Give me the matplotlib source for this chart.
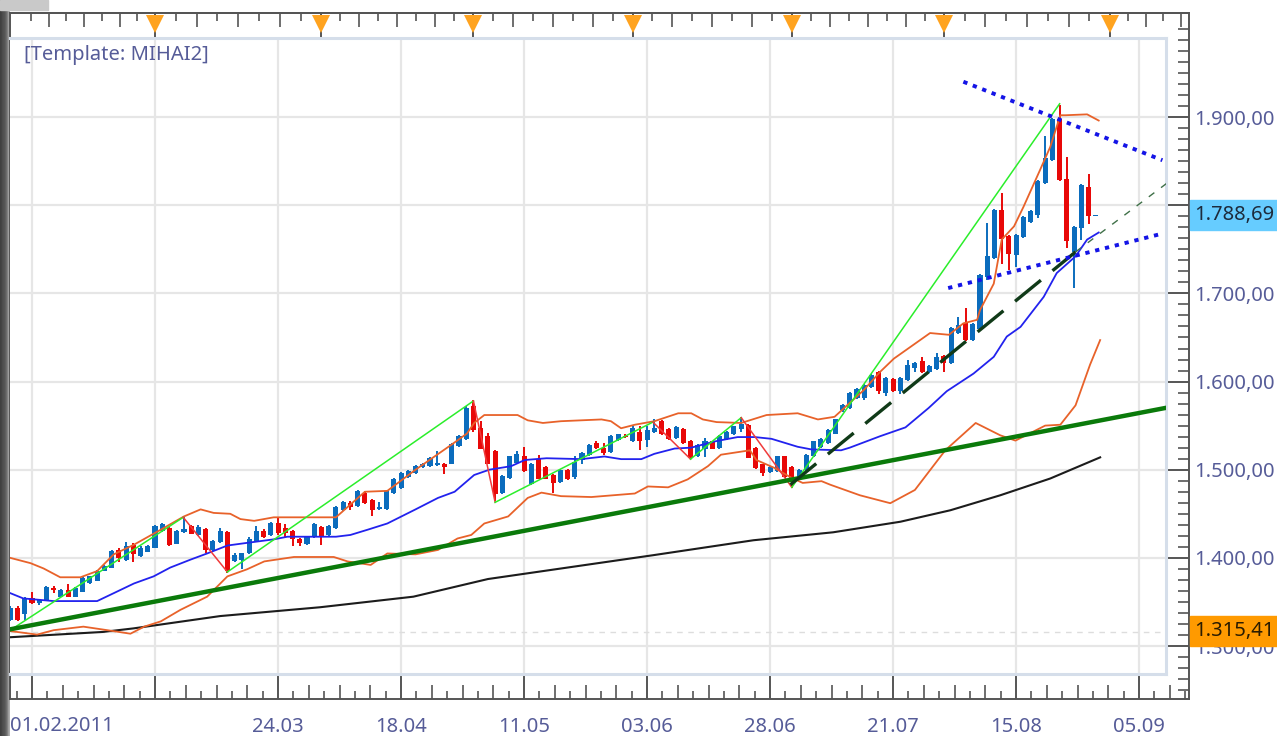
import numpy as np
import matplotlib
matplotlib.use("Agg")
import matplotlib.pyplot as plt
from matplotlib.patches import Rectangle

plt.rcParams['font.family'] = ['Noto Sans', 'DejaVu Sans']

# candles, first one is bar -3 (bar 0 = 01.02.2011)
first_bar = -3
opens = [1330, 1343, 1336, 1355, 1349, 1352, 1366, 1356, 1364, 1356,
         1361, 1371, 1374, 1385, 1388, 1409, 1398, 1415, 1402, 1407,
         1411, 1430, 1434, 1416, 1429, 1436, 1426, 1433, 1409, 1418,
         1429, 1396, 1398, 1405, 1419, 1430, 1426, 1439, 1434, 1431,
         1421, 1416, 1424, 1435, 1426, 1434, 1454, 1462, 1459, 1474,
         1466, 1455, 1455, 1474, 1479, 1492, 1496,
         1503, 1504, 1505, 1507, 1507, 1527, 1535, 1572, 1547, 1538,
         1521, 1474, 1491, 1508, 1515, 1484, 1512, 1503, 1494, 1486,
         1500, 1492, 1511, 1517, 1530, 1525, 1520, 1534, 1538, 1532,
         1543, 1534, 1543, 1555, 1546, 1536, 1546, 1533, 1515, 1524,
         1532, 1525, 1535, 1540, 1546, 1551, 1525, 1506, 1497, 1498,
         1515, 1503, 1489, 1500, 1515, 1526, 1530, 1541,
         1568, 1570, 1581, 1581, 1594, 1611, 1587, 1603, 1589, 1602,
         1615, 1623, 1611, 1614, 1629, 1621, 1655, 1666, 1647, 1660,
         1719, 1740, 1794, 1765, 1743, 1764, 1781, 1789, 1825, 1851,
         1898, 1830, 1747, 1774, 1821, 1788]
closes = [1343, 1330, 1354, 1349, 1352, 1367, 1363, 1364, 1356, 1366,
          1377, 1379, 1385, 1391, 1408, 1400, 1413, 1404, 1411, 1414,
          1436, 1438, 1415, 1431, 1433, 1427, 1435, 1409, 1419, 1430,
          1385, 1403, 1405, 1421, 1430, 1424, 1440, 1428, 1428, 1421,
          1417, 1424, 1438, 1424, 1436, 1458, 1463, 1458, 1476, 1462,
          1454, 1458, 1476, 1490, 1496, 1499, 1504,
          1507, 1513, 1508, 1503, 1529, 1538, 1570, 1545, 1524, 1507,
          1473, 1493, 1515, 1518, 1499, 1507, 1490, 1490, 1485, 1500,
          1489, 1509, 1519, 1528, 1525, 1519, 1538, 1540, 1537, 1547,
          1533, 1545, 1547, 1540, 1535, 1548, 1530, 1513, 1528, 1532,
          1524, 1538, 1543, 1549, 1552, 1513, 1502, 1496, 1503, 1515,
          1492, 1489, 1500, 1517, 1532, 1535, 1545, 1557,
          1573, 1587, 1592, 1596, 1607, 1589, 1604, 1589, 1604, 1619,
          1621, 1611, 1618, 1628, 1621, 1661, 1664, 1647, 1665, 1721,
          1742, 1795, 1762, 1745, 1766, 1787, 1793, 1827, 1853, 1898,
          1829, 1759, 1775, 1823, 1788, 1789]
highs = [1345, 1345, 1356, 1361, 1353, 1368, 1368, 1365, 1370, 1367,
         1378, 1380, 1386, 1392, 1409, 1411, 1418, 1417, 1413, 1415,
         1437, 1440, 1435, 1432, 1447, 1437, 1437, 1434, 1420, 1434,
         1430, 1406, 1406, 1424, 1436, 1433, 1441, 1446, 1438, 1432,
         1422, 1425, 1440, 1436, 1437, 1459, 1464, 1465, 1477, 1476,
         1467, 1463, 1477, 1491, 1497, 1500, 1505,
         1508, 1514, 1521, 1508, 1530, 1539, 1572, 1579, 1555, 1542,
         1522, 1494, 1516, 1521, 1526, 1508, 1517, 1504, 1495, 1501,
         1501, 1515, 1520, 1529, 1533, 1530, 1539, 1541, 1541, 1549,
         1549, 1549, 1557, 1556, 1547, 1549, 1547, 1534, 1529, 1536,
         1533, 1539, 1544, 1550, 1560, 1552, 1526, 1507, 1504, 1516,
         1516, 1504, 1501, 1518, 1533, 1536, 1546, 1558,
         1575, 1588, 1593, 1597, 1608, 1612, 1605, 1604, 1605, 1624,
         1622, 1628, 1619, 1632, 1630, 1662, 1673, 1683, 1666, 1722,
         1780, 1796, 1814, 1766, 1767, 1788, 1794, 1828, 1878, 1899,
         1914, 1855, 1776, 1824, 1835, 1789]
lows = [1328, 1328, 1330, 1348, 1347, 1351, 1360, 1356, 1356, 1356,
        1361, 1370, 1374, 1385, 1388, 1395, 1397, 1395, 1401, 1407,
        1411, 1429, 1414, 1416, 1428, 1427, 1425, 1406, 1408, 1417,
        1383, 1395, 1387, 1404, 1418, 1422, 1425, 1426, 1424, 1414,
        1414, 1415, 1423, 1415, 1425, 1433, 1453, 1454, 1458, 1461,
        1447, 1454, 1454, 1473, 1478, 1491, 1495,
        1502, 1503, 1504, 1495, 1506, 1526, 1534, 1543, 1524, 1507,
        1464, 1473, 1490, 1507, 1497, 1483, 1489, 1489, 1474, 1485,
        1488, 1489, 1507, 1516, 1524, 1517, 1519, 1533, 1536, 1531,
        1522, 1526, 1542, 1539, 1534, 1535, 1529, 1512, 1514, 1514,
        1523, 1524, 1534, 1539, 1543, 1513, 1501, 1493, 1496, 1497,
        1491, 1479, 1488, 1499, 1514, 1525, 1529, 1540,
        1566, 1569, 1580, 1579, 1593, 1586, 1584, 1588, 1586, 1601,
        1611, 1610, 1610, 1613, 1611, 1620, 1654, 1646, 1646, 1659,
        1715, 1739, 1733, 1726, 1730, 1763, 1780, 1786, 1824, 1850,
        1827, 1751, 1706, 1760, 1779, 1788]

upper_x = [-3, -0.2, 1.6, 3.9, 6.7, 9, 11.3, 14.1, 17.8, 21, 23.3, 25.1, 27.4, 28.8, 30.7, 33.4, 42, 46, 49.1, 53,
           57.9, 60.1, 61.1, 62.5, 67.1, 68.5, 70.6, 73.1, 78.7, 80, 81.4, 83.3, 86, 89.3, 91.1, 92.7, 94.6, 98, 101.5,
           105.8, 108.6, 110.9, 114.9, 117.2, 119.1, 124.1, 126.7, 128.7, 130.6, 131, 132.9, 134, 135.7, 137, 139.3,
           140.7, 142.1, 142.8, 145.8, 147.4]
upper_y = [1400, 1394, 1388, 1378, 1378, 1385, 1404, 1415, 1432, 1447, 1455, 1451, 1450, 1444, 1442, 1446, 1446, 1475, 1476, 1500,
           1528, 1541, 1553, 1562, 1562, 1556, 1553, 1555, 1557, 1555, 1547, 1551, 1555, 1564, 1564, 1557, 1554, 1553, 1562,
           1564, 1557, 1560, 1590, 1611, 1626, 1655, 1653, 1666, 1670, 1681, 1711, 1761, 1776, 1798, 1840,
           1866, 1902, 1902, 1903, 1896]
middle_x = [-3, -1.2, 1.6, 3, 9, 11.3, 14.1, 16.8, 19.1, 21.9, 24.2, 27, 29.7, 33.4, 35.3, 42, 44, 46.4, 49.1, 53,
            56.1, 58.4, 61.1, 63.2, 66.2, 68.1, 71.1, 75.9, 79.1, 81.4, 84.2, 86, 88.8, 91.1, 94.3, 97.5, 99.9, 102.2,
            105.8, 107.7, 111.8, 113, 117.2, 120.7, 123.9, 126.4, 130.1, 132.9, 134.7, 136.6, 139.8, 141.6, 144.2, 145.8, 147.4]
middle_y = [1360, 1354, 1352, 1351, 1351, 1360, 1371, 1379, 1389, 1398, 1405, 1414, 1417, 1421, 1424, 1424, 1426, 1432, 1439, 1455,
            1468, 1475, 1494, 1500, 1504, 1511, 1513, 1512, 1515, 1512, 1512, 1518, 1524, 1525, 1532, 1537, 1537, 1535,
            1526, 1523, 1522, 1525, 1538, 1548, 1570, 1589, 1609, 1628, 1651, 1662, 1696, 1723, 1742, 1761, 1769]
lower_x = [-3, 0.7, 3, 7.1, 10.4, 13.6, 15.5, 17.8, 20.5, 24.2, 27, 29.7, 32.1, 36.2, 41.7, 43.6, 46.8, 49.1, 53,
           56.1, 58.8, 60.7, 62.5, 65.8, 68.5, 70.4, 73.1, 77.3, 83.3, 85.1, 87.9, 90.6, 93.4, 95.2, 99.2, 100.1, 102.6,
           104.9, 106.5, 109.1, 110.3, 114.4, 118.6, 122, 126.2, 130.4, 133.8, 135.9, 140, 142.1, 144.2, 146.2, 147.6]
lower_y = [1317, 1313, 1318, 1322, 1318, 1314, 1322, 1328, 1341, 1356, 1379, 1387, 1396, 1401, 1401, 1396, 1392, 1405, 1404,
           1409, 1422, 1426, 1439, 1447, 1468, 1474, 1470, 1469, 1473, 1481, 1480, 1489, 1504, 1517, 1522, 1511, 1502,
           1491, 1485, 1487, 1483, 1471, 1462, 1477, 1522, 1553, 1539, 1533, 1550, 1551, 1573, 1619, 1647]
sma_x = [-3, 9.8, 14, 26, 39.8, 52.7, 63, 85.8, 99.7, 110.7, 120, 126.9, 133.8, 140.7, 147.6]
sma_y = [1310, 1316, 1320, 1334, 1344, 1356, 1376, 1403, 1420, 1429, 1441, 1454, 1471, 1490, 1514]

# zigzag turning points, odd legs go up (green), even legs go down (red)
zig_x = [-3, 20.9, 27, 61, 64, 85.8, 91, 98, 105, 142]
zig_y = [1318, 1446, 1384, 1578, 1463, 1554, 1512, 1559, 1480, 1915]

trend_x = [-3, 156.6]
trend_y = [1319, 1570]
channel_x = [104.8, 144.2]
channel_y = [1483, 1747]
channel_ext_x = [144.2, 157]
channel_ext_y = [1747, 1826]
dots_top_x = [128.7, 156.2]
dots_top_y = [1940, 1851]
dots_low_x = [126.6, 156.3]
dots_low_y = [1706, 1768]

event_bars = [17, 40, 61, 83, 105, 126, 149]
price_ticks = [1300, 1400, 1500, 1600, 1700, 1800, 1900]
price_labels = ['1.300,00', '1.400,00', '1.500,00', '1.600,00', '1.700,00', '', '1.900,00']
date_ticks = [0, 17, 34, 51, 68, 85, 102, 119, 136, 153]
date_labels = ['', '', '24.03', '18.04', '11.05', '03.06', '28.06', '21.07', '15.08', '05.09']
last_price = 1788.69
base_price = 1315.41

LABEL = '#565c98'
W, H = 1277, 736


def rect(x0, y0, x1, y1):
    return [x0 / W, 1 - y1 / H, (x1 - x0) / W, (y1 - y0) / H]


fig = plt.figure(figsize=(12.77, 7.36), dpi=100, facecolor='white')

# dark strip on the left edge and the bit of window above it
strip = fig.add_axes(rect(0, 0, 10, 736))
strip.imshow([[0.25, 0.3, 0.33, 0.38, 0.5, 0.68]], cmap='gray', vmin=0, vmax=1, aspect='auto')
strip.axis('off')
fig.patches.append(Rectangle((0, 1 - 10 / H), 48 / W, 10 / H, transform=fig.transFigure, color='#c9c9c9'))

# outer frame carries the ticks, the inner panel the chart
frame = fig.add_axes(rect(10, 13, 1189, 699))
frame.set_xlim(-3.04, 159.9)
frame.set_ylim(1240, 2018)
frame.set_facecolor('white')
for s in frame.spines.values():
    s.set_color('#555555')
    s.set_linewidth(1.4)

frame.set_xticks(date_ticks)
frame.set_xticklabels(date_labels, fontsize=14.5, color=LABEL)
x_minor = [k * 17 / 8 for k in range(-1, 76) if k % 8 != 0]
frame.set_xticks(x_minor, minor=True)
frame.tick_params(axis='x', which='major', direction='in', length=18, width=1.4, color='#555555', pad=13)
frame.tick_params(axis='x', which='minor', direction='in', length=6, width=1.2, color='#555555')
for k, t in zip([k for k in range(-1, 76) if k % 8 != 0], frame.xaxis.get_minor_ticks()):
    t.tick1line.set_markersize(10 if k % 2 == 0 else 6)

frame.yaxis.tick_right()
frame.set_yticks(price_ticks)
frame.set_yticklabels(price_labels, fontsize=14.5, color=LABEL)
frame.set_yticks(np.arange(1250, 2012.5, 12.5), minor=True)
frame.tick_params(axis='y', which='major', direction='in', length=16.5, width=1.4, color='#555555', pad=4)
frame.tick_params(axis='y', which='minor', direction='in', length=8, width=1.2, color='#555555')

# top scale runs on its own spacing between the event marks
top = frame.secondary_xaxis('top')
top_minor, top_sizes = [], []
for a, b in zip(event_bars[:-1], event_bars[1:]):
    for k in range(1, 8):
        top_minor.append(a + (b - a) * k / 8)
        top_sizes.append(10 if k % 2 == 0 else 6)
for k in range(1, 8):
    top_minor.append(event_bars[0] - k * 2.45)
    top_sizes.append(10 if k % 2 == 0 else 6)
for k in range(1, 5):
    top_minor.append(event_bars[-1] + k * 2.45)
    top_sizes.append(10 if k % 2 == 0 else 6)
top.set_xticks(event_bars)
top.set_xticklabels([])
top.set_xticks(top_minor, minor=True)
top.tick_params(axis='x', which='major', direction='in', length=18, width=1.4, color='#555555')
top.tick_params(axis='x', which='minor', direction='in', length=6, width=1.2, color='#555555')
for t, sz in zip(top.xaxis.get_minor_ticks(), top_sizes):
    t.tick2line.set_markersize(sz)
top.spines['top'].set_color('#555555')
top.spines['top'].set_linewidth(1.4)

frame.plot(event_bars, [0.984] * len(event_bars), linestyle='none', marker='v', ms=12.5, color='#ffa31f',
           markeredgewidth=0, transform=frame.get_xaxis_transform(), clip_on=False, zorder=1)

frame.text(first_bar, -0.0395, '01.02.2011', transform=frame.get_xaxis_transform(), fontsize=14.5, color=LABEL,
           ha='left', va='center')

# price boxes on the right hand scale
for value, shift, col, txt_col in [(last_price, 0, '#66ccff', '#1d2b3c'), (base_price, 2, '#ff9a00', '#2a1c00')]:
    frame.add_patch(Rectangle((1.0007, value + shift - 17), 0.0745, 34, transform=frame.get_yaxis_transform(),
                              color=col, clip_on=False, zorder=5))
    frame.text(1.0047, value + shift, f'{value:,.2f}'.replace(',', ' ').replace('.', ',').replace(' ', '.'),
               transform=frame.get_yaxis_transform(), fontsize=14.5, color=txt_col, va='center', ha='left', zorder=6)

ax = fig.add_axes(rect(10, 38, 1166, 674))
ax.set_xlim(-3.04, 156.7)
ax.set_ylim(1268.3, 1989.6)
ax.set_facecolor('white')
ax.set_xticks(date_ticks)
ax.set_yticks(price_ticks)
ax.tick_params(left=False, bottom=False, labelleft=False, labelbottom=False)
ax.grid(True, color='#e6e6e6', linewidth=1.6)
ax.set_axisbelow(True)
for s in ax.spines.values():
    s.set_color('#d5deea')
    s.set_linewidth(2.2)
ax.spines['left'].set_visible(False)

ax.axhline(base_price, color='#dddddd', linewidth=1, linestyle=(0, (4, 4)))
ax.text(0.012, 0.973, '[Template: MIHAI2]', transform=ax.transAxes, fontsize=14.5, color=LABEL, va='center', ha='left')

bars = np.arange(first_bar, first_bar + len(opens))
o, c = np.array(opens), np.array(closes)
colors = np.where(c >= o, '#0b6cbd', '#e80808')
ax.vlines(bars, lows, highs, colors=colors, linewidth=1.4, zorder=2)
ax.bar(bars, np.abs(c - o), bottom=np.minimum(o, c), width=0.7, color=colors, zorder=2)

ax.plot(sma_x, sma_y, color='#1c1c1c', linewidth=1.5, zorder=3)
ax.plot(upper_x, upper_y, color='#e8622a', linewidth=1.3, zorder=3)
ax.plot(lower_x, lower_y, color='#e8622a', linewidth=1.3, zorder=3)
ax.plot(middle_x, middle_y, color='#2222ee', linewidth=1.3, zorder=3)

for i in range(len(zig_x) - 1):
    col = '#2bee2b' if i % 2 == 0 else '#f03a3a'
    ax.plot(zig_x[i:i + 2], zig_y[i:i + 2], color=col, linewidth=1.1, zorder=4)

ax.plot(trend_x, trend_y, color='#0a7a0a', linewidth=3.2, zorder=4)
ax.plot(channel_x, channel_y, color='#103a18', linewidth=2.4, linestyle=(0, (10, 4.5)), zorder=5)
ax.plot(channel_ext_x, channel_ext_y, color='#3f7048', linewidth=1, linestyle=(0, (5, 6)), zorder=5)
ax.plot(dots_top_x, dots_top_y, color='#1414e6', linewidth=2.8, linestyle=(0, (1.1, 1.5)), zorder=5)
ax.plot(dots_low_x, dots_low_y, color='#1414e6', linewidth=2.8, linestyle=(0, (1.1, 1.5)), zorder=5)

fig.savefig('out.png', dpi=100)
